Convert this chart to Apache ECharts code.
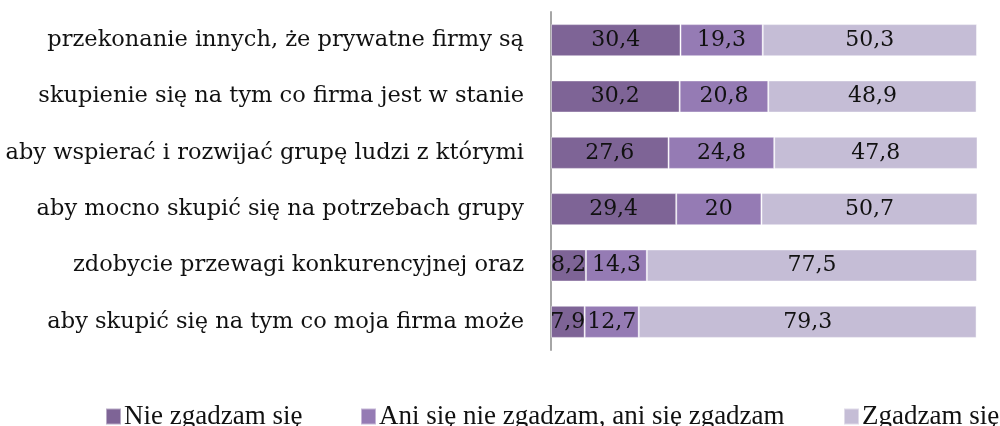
<!DOCTYPE html>
<html>
<head>
<meta charset="utf-8">
<script src="https://cdn.jsdelivr.net/npm/echarts@6/dist/echarts.min.js"></script>
<style>
  html, body { margin: 0; padding: 0; background: #fff; overflow: hidden; }
  #chart { width: 1000px; height: 426px; }
</style>
</head>
<body>
<div id="chart"></div>
<script>
// Statements, listed top to bottom
const categories = [
  'przekonanie innych, że prywatne firmy są',
  'skupienie się na tym co firma jest w stanie',
  'aby wspierać i rozwijać grupę ludzi z którymi',
  'aby mocno skupić się na potrzebach grupy',
  'zdobycie przewagi konkurencyjnej oraz',
  'aby skupić się na tym co moja firma może'
];
const seriesNames = ['Nie zgadzam się', 'Ani się nie zgadzam, ani się zgadzam', 'Zgadzam się'];
const disagree = [30.4, 30.2, 27.6, 29.4, 8.2, 7.9];
const neutral = [19.3, 20.8, 24.8, 20, 14.3, 12.7];
const agree = [50.3, 48.9, 47.8, 50.7, 77.5, 79.3];

const colors = ['#7E6496', '#957BB4', '#C5BDD6'];
const values = [disagree, neutral, agree];
// left edge of each legend entry
const legendLefts = [100, 355, 838];

const chart = echarts.init(document.getElementById('chart'));

chart.setOption({
  animation: false,
  grid: { left: 551, right: 23, top: 12, bottom: 76, containLabel: false },
  xAxis: {
    type: 'value', min: 0, max: 100, show: false
  },
  yAxis: {
    type: 'category',
    data: categories,
    inverse: true,
    axisLine: { show: true, lineStyle: { color: '#A6A6A6', width: 2 } },
    axisTick: { show: false },
    axisLabel: {
      margin: 27,
      color: '#111',
      fontFamily: 'DejaVu Serif',
      fontSize: 22.5
    }
  },
  legend: seriesNames.map((name, i) => ({
    left: legendLefts[i],
    top: 398,
    itemWidth: 15,
    itemHeight: 16,
    icon: 'rect',
    textStyle: { fontFamily: 'Liberation Serif', fontSize: 27, color: '#111', padding: [0, 0, 0, -2] },
    data: [name]
  })),
  series: seriesNames.map((name, i) => ({
    name: name,
    type: 'bar',
    stack: 'total',
    barWidth: '57%',
    data: values[i],
    itemStyle: { color: colors[i], borderColor: 'rgba(255,255,255,0.45)', borderWidth: 1 },
    label: {
      show: true,
      position: 'inside',
      color: '#111',
      fontFamily: 'DejaVu Serif',
      fontSize: 22,
      formatter: p => String(p.value).replace('.', ',')
    }
  }))
});
</script>
</body>
</html>
